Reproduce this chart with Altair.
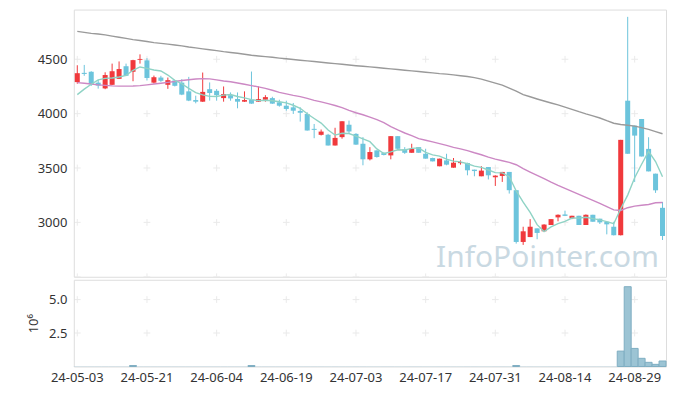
import altair as alt
import pandas as pd

dates = ["24-05-03","24-05-07","24-05-08","24-05-09","24-05-10","24-05-13","24-05-14","24-05-16","24-05-17","24-05-20",
         "24-05-21","24-05-22","24-05-23","24-05-24","24-05-27","24-05-28","24-05-29","24-05-30","24-05-31","24-06-03",
         "24-06-04","24-06-05","24-06-07","24-06-10","24-06-11","24-06-12","24-06-13","24-06-14","24-06-17","24-06-18",
         "24-06-19","24-06-20","24-06-21","24-06-24","24-06-25","24-06-26","24-06-27","24-06-28","24-07-01","24-07-02",
         "24-07-03","24-07-04","24-07-05","24-07-08","24-07-09","24-07-10","24-07-11","24-07-12","24-07-15","24-07-16",
         "24-07-17","24-07-18","24-07-19","24-07-22","24-07-23","24-07-24","24-07-25","24-07-26","24-07-29","24-07-30",
         "24-07-31","24-08-01","24-08-02","24-08-05","24-08-06","24-08-07","24-08-08","24-08-09","24-08-12","24-08-13",
         "24-08-14","24-08-16","24-08-19","24-08-20","24-08-21","24-08-22","24-08-23","24-08-26","24-08-27","24-08-28",
         "24-08-29","24-08-30","24-09-02","24-09-03","24-09-04"]

opens = [4290,4375,4385,4285,4232,4265,4320,4436,4385,4495,
         4490,4285,4332,4265,4305,4285,4205,4125,4110,4225,
         4210,4143,4170,4135,4110,4128,4110,4128,4143,4104,
         4073,4058,4025,3997,3860,3805,3805,3707,3784,3898,
         3814,3723,3580,3662,3637,3616,3793,3671,3640,3692,
         3631,3592,3516,3570,3503,3545,3546,3485,3424,3509,
         3415,3427,3464,3296,2820,2865,2945,2918,2976,3046,
         3073,3037,3061,2976,3070,3034,3006,2960,2882,4119,
         3890,3951,3676,3448,3134]
highs = [4445,4448,4390,4310,4380,4460,4480,4460,4495,4545,
         4510,4350,4348,4332,4310,4317,4338,4165,4378,4287,
         4226,4250,4195,4195,4205,4387,4250,4170,4155,4128,
         4119,4098,4058,4012,3905,3854,3814,3870,3930,3936,
         3820,3784,3692,3662,3645,3793,3793,3692,3723,3692,
         3677,3595,3586,3631,3592,3570,3549,3485,3517,3509,
         3433,3464,3464,3296,2960,3030,2945,2983,3030,3073,
         3108,3061,3061,3073,3070,3034,3006,3006,3759,4890,
         3890,3951,3783,3448,3188]
lows = [4275,4348,4255,4230,4225,4262,4318,4345,4298,4460,
        4305,4277,4292,4228,4250,4170,4115,4095,4108,4120,
        4119,4110,4119,4049,4108,4090,4108,4110,4090,4064,
        4027,3997,3927,3844,3774,3799,3707,3707,3770,3814,
        3713,3525,3570,3595,3616,3580,3671,3630,3640,3640,
        3586,3561,3516,3525,3503,3531,3433,3424,3424,3395,
        3335,3372,3265,2805,2793,2865,2845,2918,2976,3010,
        3058,3030,2976,2976,3006,2985,2890,2880,2880,3631,
        3372,3606,3469,3271,2838]
closes = [4372,4365,4270,4258,4355,4390,4410,4348,4492,4503,
          4328,4335,4302,4308,4256,4175,4120,4110,4200,4190,
          4170,4180,4140,4110,4125,4092,4134,4152,4092,4073,
          4043,4027,4008,3845,3851,3835,3707,3777,3930,3836,
          3715,3580,3647,3601,3620,3793,3677,3640,3677,3640,
          3586,3561,3586,3531,3549,3555,3479,3472,3476,3433,
          3430,3464,3296,2820,2918,2960,2903,2980,3030,3070,
          3060,3061,2976,3070,3006,3000,2982,2882,3759,3631,
          3798,3606,3469,3295,2875]

ma5 = [4175,4225,4270,4310,4324,4328,4337,4352,4399,4429,
       4416,4401,4392,4355,4306,4275,4232,4194,4172,4159,
       4158,4170,4176,4158,4145,4129,4120,4123,4119,4109,
       4099,4077,4049,3999,3955,3913,3849,3803,3820,3817,
       3793,3768,3742,3676,3633,3648,3668,3666,3681,3685,
       3644,3621,3610,3581,3563,3556,3539,3517,3506,3482,
       3458,3455,3420,3289,3186,3092,2979,2916,2958,2989,
       3009,3040,3039,3047,3035,3023,3007,2988,3126,3251,
       3410,3535,3653,3560,3420]
ma20 = [4285,4280,4272,4265,4260,4255,4253,4253,4254,4258,
        4265,4272,4280,4288,4296,4305,4312,4318,4322,4320,
        4310,4300,4293,4282,4270,4258,4246,4232,4215,4195,
        4182,4168,4156,4140,4122,4108,4092,4075,4055,4030,
        4008,3990,3968,3945,3918,3880,3850,3822,3797,3770,
        3755,3740,3724,3708,3690,3676,3660,3640,3622,3600,
        3582,3567,3552,3530,3494,3463,3432,3402,3370,3340,
        3312,3285,3258,3230,3203,3175,3145,3115,3110,3135,
        3150,3157,3165,3180,3183]
ma120 = [4756,4747,4738,4732,4724,4713,4703,4692,4681,4672,
         4663,4653,4646,4639,4631,4623,4613,4605,4596,4588,
         4580,4570,4562,4555,4546,4537,4530,4524,4518,4511,
         4505,4498,4491,4485,4479,4473,4466,4460,4454,4447,
         4441,4436,4430,4424,4418,4412,4406,4399,4393,4387,
         4381,4375,4368,4363,4356,4349,4341,4331,4317,4299,
         4280,4262,4235,4207,4175,4155,4135,4116,4098,4080,
         4060,4040,4018,3998,3980,3960,3935,3912,3900,3893,
         3885,3872,3855,3835,3815]
volume_m = [0.02,0.02,0.02,0.02,0.02,0.02,0.02,0.02,0.07,0.02,
            0.02,0.02,0.02,0.02,0.02,0.02,0.02,0.02,0.02,0.02,
            0.02,0.02,0.02,0.02,0.02,0.07,0.02,0.02,0.02,0.02,
            0.02,0.02,0.02,0.02,0.02,0.02,0.02,0.02,0.02,0.02,
            0.02,0.02,0.02,0.02,0.02,0.02,0.02,0.02,0.02,0.02,
            0.02,0.02,0.02,0.02,0.02,0.02,0.02,0.02,0.02,0.02,
            0.02,0.02,0.02,0.07,0.02,0.02,0.02,0.02,0.02,0.02,
            0.02,0.02,0.02,0.02,0.02,0.02,0.02,0.02,1.15,5.96,
            1.35,0.61,0.31,0.16,0.41]

price_ticks = [3000, 3500, 4000, 4500]
grid_prices = [2500, 3000, 3500, 4000, 4500]
vol_ticks = [2.5, 5.0]
label_dates = dates[::10]

UP, DOWN = "#f0393c", "#6cc4dc"
FONT = "Noto Sans"
W = 594

df = pd.DataFrame({"date": dates, "open": opens, "high": highs, "low": lows,
                   "close": closes, "ma5": ma5, "ma20": ma20, "ma120": ma120, "vol": volume_m})
df["dir"] = ["up" if c >= o else "down" for o, c in zip(opens, closes)]

grid_df = pd.DataFrame([{"date": d, "p": p} for d in label_dates for p in grid_prices])
vgrid_df = pd.DataFrame([{"date": d, "v": v} for d in label_dates for v in vol_ticks])

xs = alt.Scale(domain=dates, paddingInner=0, paddingOuter=0)
x_top = alt.X("date:O", scale=xs, axis=None, sort=dates)
ys = alt.Scale(domain=[2500, 4957], nice=False, zero=False)
color = alt.Color("dir:N", scale=alt.Scale(domain=["up", "down"], range=[UP, DOWN]), legend=None)

base = alt.Chart(df)
cross = "M-1,0L1,0M0,-1L0,1"

grid = alt.Chart(grid_df).mark_point(shape=cross, size=45, filled=False, stroke="#e2e2e2", strokeWidth=1,
                                     clip=True).encode(x=x_top, y=alt.Y("p:Q", scale=ys))
wick = base.mark_rule(strokeWidth=1).encode(
    x=x_top,
    y=alt.Y("low:Q", scale=ys, axis=alt.Axis(values=price_ticks, format="d", title=None, grid=False, ticks=False,
                                             domain=False, labelFont=FONT, labelFontSize=13, labelColor="#333",
                                             labelPadding=7)),
    y2="high:Q", color=color)
body = base.mark_bar(width=alt.RelativeBandSize(0.72)).encode(
    x=x_top, y=alt.Y("open:Q", scale=ys), y2="close:Q", color=color)
l120 = base.mark_line(color="#9a9a9a", strokeWidth=1.4).encode(x=x_top, y=alt.Y("ma120:Q", scale=ys))
l20 = base.mark_line(color="#cc88c4", strokeWidth=1.4).encode(x=x_top, y=alt.Y("ma20:Q", scale=ys))
l5 = base.mark_line(color="#8fd3c5", strokeWidth=1.4).encode(x=x_top, y=alt.Y("ma5:Q", scale=ys))
wm = alt.Chart(pd.DataFrame({"t": ["InfoPointer.com"]})).mark_text(
    font=FONT, fontSize=30, color="#b8cdd9", opacity=0.75, align="right",
    baseline="alphabetic").encode(text="t:N", x=alt.value(W - 7), y=alt.value(258))

top = alt.layer(grid, wick, body, l120, l20, l5, wm).properties(width=W, height=268)

vs = alt.Scale(domain=[0, 6.48], nice=False)
x_bot = alt.X("date:O", scale=xs, sort=dates,
              axis=alt.Axis(values=label_dates, title=None, labelAngle=0, ticks=False, domain=False, grid=False,
                            labelFont=FONT, labelFontSize=13, labelColor="#333", labelPadding=5))
vgrid = alt.Chart(vgrid_df).mark_point(shape=cross, size=45, filled=False, stroke="#e2e2e2", strokeWidth=1,
                                       clip=True).encode(x=x_bot, y=alt.Y("v:Q", scale=vs))
vol = base.mark_bar(fill="#9cc4d4", stroke="#7eaec2", strokeWidth=1).encode(
    x=x_bot,
    y=alt.Y("vol:Q", scale=vs, axis=alt.Axis(values=vol_ticks, format=".1f", title="10⁶", grid=False, ticks=False,
                                             domain=False, labelFont=FONT, labelFontSize=13, labelColor="#333",
                                             labelPadding=7, titleFont=FONT, titleFontSize=13, titleFontWeight="normal",
                                             titleColor="#333", titlePadding=8)),
    strokeOpacity=alt.condition(alt.datum.vol > 0.05, alt.value(1), alt.value(0)))
bottom = alt.layer(vgrid, vol).properties(width=W, height=87)

chart = alt.vconcat(top, bottom, spacing=1).properties(
    padding={"left": 19, "top": 0, "right": 2, "bottom": 2}
).configure_view(stroke="#e6e6e6", strokeWidth=1).configure(background="white")

chart.save("out.html", embed_options={"renderer": "svg", "actions": False})
